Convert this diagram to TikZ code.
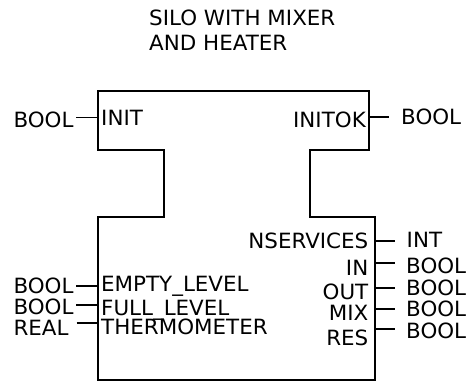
\documentclass[tikz,border=0pt]{standalone}
\usepackage{fontspec}
\setmainfont{DejaVu Sans}[FakeStretch=1.02]
\begin{document}
\begin{tikzpicture}[x=1pt,y=-1pt,
  lbl/.style={inner sep=0pt,font=\fontsize{21}{25}\selectfont},
  lw/.style={lbl,anchor=base west},
  le/.style={lbl,anchor=base east},
  pin/.style={line width=1.7pt},
  outline/.style={line width=1.7pt,line join=miter}]
\useasboundingbox (0,0) rectangle (466,381);
% title
\node[lw] (t1) at (149,25.5) {SILO WITH MIXER};
\node[lw] (t2) at (149,50.7) {AND HEATER};
% block outline
\draw[outline] (98,91) -- (369,91) -- (369,150) -- (310,150) -- (310,217)
  -- (375,217) -- (375,380) -- (98,380) -- (98,217) -- (164,217)
  -- (164,150) -- (98,150) -- cycle;
% inputs
\node[lw] (iInit) at (101,125.5) {INIT};
\node[lw] (iEmpty) at (101,291) {EMPTY\_LEVEL};
\node[lw] (iFull) at (101,315) {FULL\_LEVEL};
\node[lw] (iTherm) at (101,334.5) {THERMOMETER};
\node[lw] (tInit) at (13.3,127.5) {BOOL};
\node[lw] (tEmpty) at (13.3,293.3) {BOOL};
\node[lw] (tFull) at (13.3,314.3) {BOOL};
\node[lw] (tTherm) at (13.3,335) {REAL};
% outputs
\node[le] (oInitok) at (366,127.5) {INITOK};
\node[le] (oNserv) at (368.5,248.3) {NSERVICES};
\node[le] (oIn) at (368.5,275) {IN};
\node[le] (oOut) at (368.5,299.5) {OUT};
\node[le] (oMix) at (368.5,320) {MIX};
\node[le] (oRes) at (368.5,345) {RES};
\node[lw] (uInitok) at (401,124) {BOOL};
\node[lw] (uNserv) at (406.5,247.7) {INT};
\node[lw] (uIn) at (406,273.3) {BOOL};
\node[lw] (uOut) at (406,295) {BOOL};
\node[lw] (uMix) at (406,316.7) {BOOL};
\node[lw] (uRes) at (406,338.3) {BOOL};
% pin coordinates
\coordinate (aInit) at (76,117.5); \coordinate (bInit) at (98,117.5);
\coordinate (aEmpty) at (76,286); \coordinate (bEmpty) at (98,286);
\coordinate (aFull) at (76,305); \coordinate (bFull) at (98,305);
\coordinate (aTherm) at (76.7,323.3); \coordinate (bTherm) at (98,323.3);
\coordinate (cInitok) at (369,116.7); \coordinate (dInitok) at (389,116.7);
\coordinate (cNserv) at (375,240.7); \coordinate (dNserv) at (395,240.7);
\coordinate (cIn) at (375,263.3); \coordinate (dIn) at (395,263.3);
\coordinate (cOut) at (375,288.3); \coordinate (dOut) at (395,288.3);
\coordinate (cMix) at (375,309.3); \coordinate (dMix) at (395,309.3);
\coordinate (cRes) at (375,329.3); \coordinate (dRes) at (395,329.3);
\foreach \p in {Init,Empty,Full,Therm} \draw[pin] (a\p) -- (b\p);
\foreach \p in {Initok,Nserv,In,Out,Mix,Res} \draw[pin] (c\p) -- (d\p);
\end{tikzpicture}
\end{document}
